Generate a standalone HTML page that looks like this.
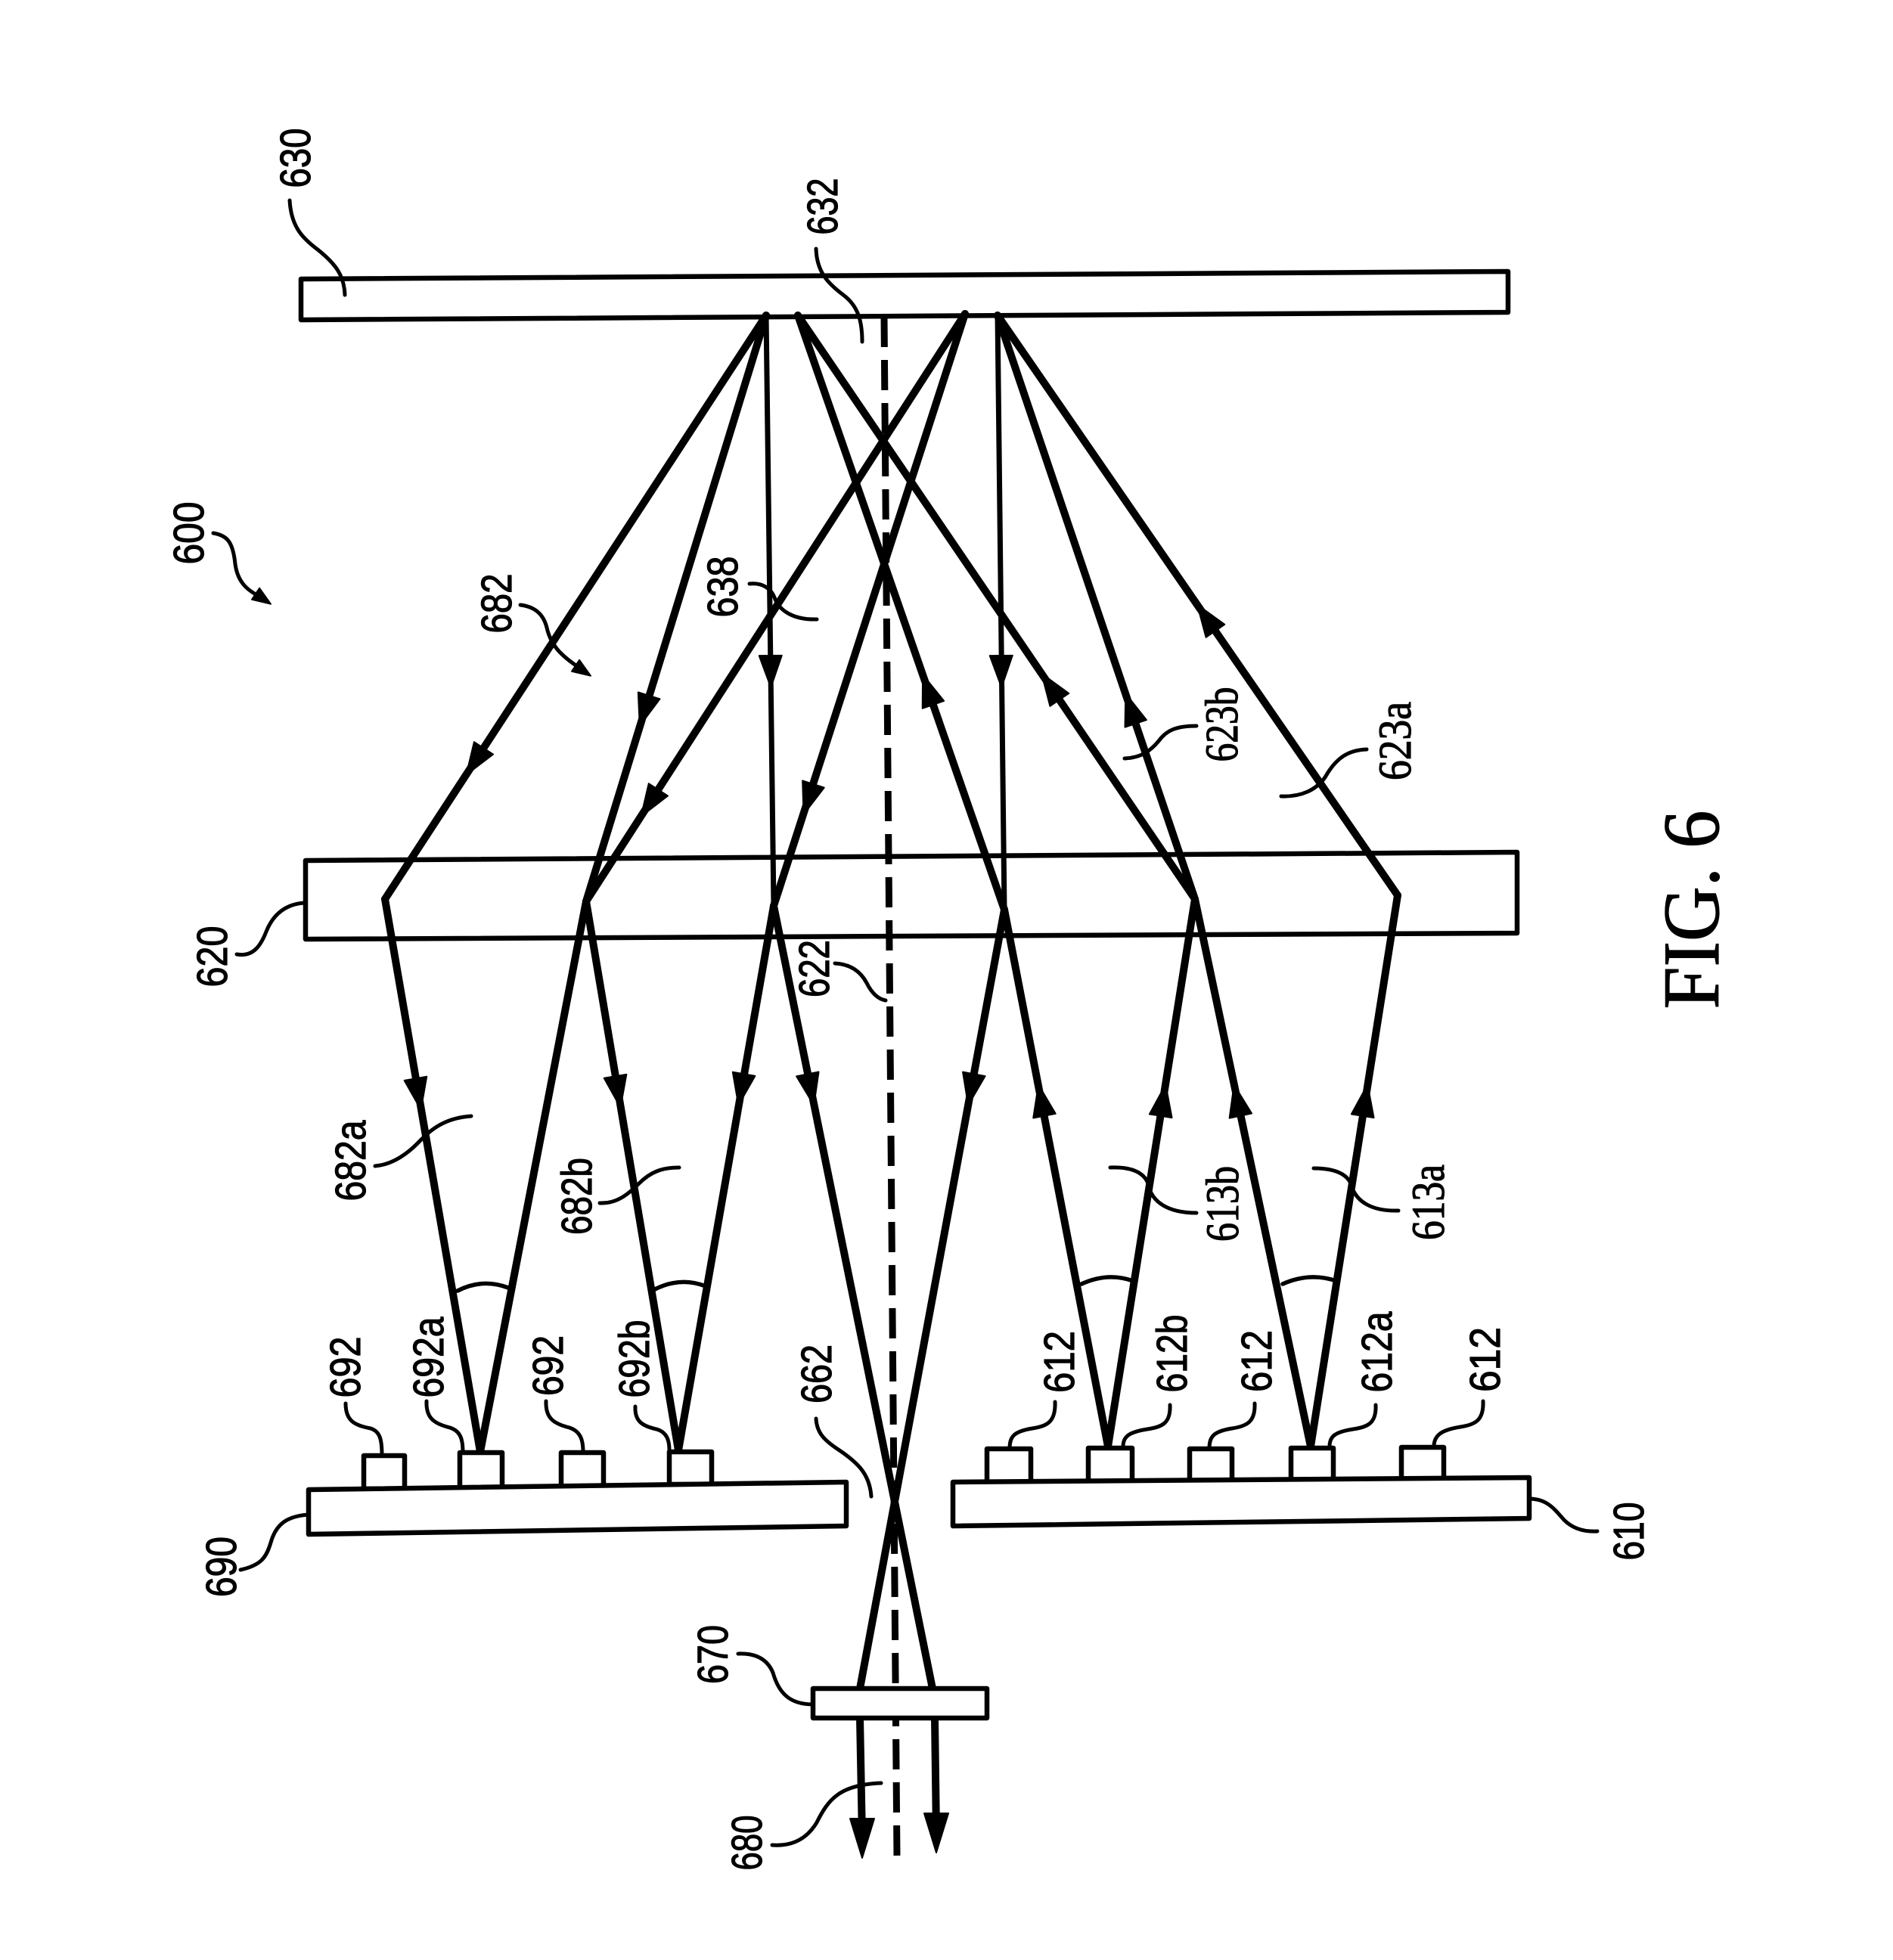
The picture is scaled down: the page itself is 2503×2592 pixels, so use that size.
<!DOCTYPE html>
<html><head><meta charset="utf-8"><style>
html,body{margin:0;padding:0;background:#fff;}
svg{display:block;}
text{fill:#000;stroke:#000;stroke-width:1.2px;}
.s{font-family:"Liberation Sans",sans-serif;font-size:57px;}
.r{font-family:"Liberation Serif",serif;font-size:61px;}
</style></head><body>
<svg width="2503" height="2592" viewBox="0 0 2503 2592" xmlns="http://www.w3.org/2000/svg">
<rect width="2503" height="2592" fill="#fff"/>
<g stroke="#000" fill="none" stroke-linecap="round" stroke-linejoin="round">
<!-- dashed axis -->
<path d="M1169,419 L1186,2457" stroke-width="9" stroke-dasharray="40 17" stroke-linecap="butt"/>
<!-- beams above 620 -->
<g stroke-width="10">
<path d="M1013,417 L509,1189"/>
<path d="M1013,417 L775,1192"/>
<path d="M1055,417 L1328,1203"/>
<path d="M1055,417 L1580,1189"/>
<path d="M1276,415 L775,1192"/>
<path d="M1276,415 L1023,1198"/>
<path d="M1319,417 L1580,1189"/>
<path d="M1319,417 L1848,1184"/>
</g>
<g stroke-width="7">
<path d="M1013,417 L1023,1198"/>
<path d="M1319,417 L1328,1203"/>
</g>
<!-- beams below 620 -->
<g stroke-width="10">
<path d="M509,1189 L635,1920"/>
<path d="M775,1192 L635,1920"/>
<path d="M775,1192 L897,1918"/>
<path d="M1023,1198 L897,1918"/>
<path d="M1023,1198 L1183,1986 L1233,2233"/>
<path d="M1328,1203 L1183,1986 L1137,2233"/>
<path d="M1137,2272 L1140,2430"/>
<path d="M1236,2272 L1238,2424"/>
<path d="M1465,1913 L1328,1203"/>
<path d="M1465,1913 L1580,1189"/>
<path d="M1733,1913 L1580,1189"/>
<path d="M1733,1913 L1848,1184"/>
</g>
<!-- angle arcs -->
<g stroke-width="5.5">
<path d="M605,1707 Q638,1690 672,1703"/>
<path d="M866,1705 Q900,1688 933,1701"/>
<path d="M1430,1698 Q1465,1682 1498,1694"/>
<path d="M1696,1698 Q1732,1682 1767,1694"/>
</g>
<!-- mirrors / panels -->
<g stroke-width="6.5" fill="none">
<polygon points="398,369 1994,359 1994,413 398,423"/>
<polygon points="404,1138 2006,1127 2006,1234 404,1242"/>
</g>
<g stroke-width="6.5" fill="#fff">
<rect x="481" y="1925" width="54" height="44"/>
<rect x="608" y="1921" width="56" height="47"/>
<rect x="742" y="1921" width="56" height="45"/>
<rect x="885" y="1920" width="56" height="43"/>
<rect x="1305" y="1916" width="58" height="44"/>
<rect x="1439" y="1915" width="58" height="44"/>
<rect x="1573" y="1916" width="56" height="42"/>
<rect x="1707" y="1915" width="56" height="42"/>
<rect x="1853" y="1914" width="56" height="42"/>
<polygon points="408,1970 1119,1960 1119,2018 408,2029"/>
<polygon points="1260,1960 2022,1954 2022,2008 1260,2018"/>
<rect x="1075" y="2233" width="230" height="39"/>
</g>
<!-- leaders -->
<g stroke-width="5">
<path d="M383,265 C385,300 400,315 420,330 C445,350 455,365 456,390"/>
<path d="M1079,329 C1080,360 1095,375 1115,390 C1135,405 1140,425 1140,452"/>
<path d="M282,705 C300,708 308,716 311,746 C314,768 325,780 344,789"/>
<path d="M688,800 C705,802 718,810 723,830 C728,852 740,866 766,883"/>
<path d="M991,772 C1010,770 1020,780 1024,790 C1030,808 1050,820 1080,819"/>
<path d="M313,1262 C335,1266 345,1250 352,1232 C360,1212 375,1196 402,1194"/>
<path d="M1104,1274 C1125,1275 1138,1285 1146,1300 C1152,1312 1160,1321 1171,1323"/>
<path d="M496,1542 C520,1540 540,1525 556,1508 C575,1488 595,1478 623,1476"/>
<path d="M793,1591 C815,1592 830,1580 845,1565 C860,1550 875,1544 898,1544"/>
<path d="M1487,1003 C1510,1002 1522,992 1532,980 C1542,966 1555,960 1582,960"/>
<path d="M1694,1053 C1720,1054 1740,1045 1752,1028 C1765,1005 1780,992 1807,991"/>
<path d="M1468,1544 C1495,1543 1512,1550 1518,1565 C1522,1590 1545,1604 1582,1604"/>
<path d="M1737,1545 C1765,1545 1780,1552 1786,1565 C1792,1590 1815,1602 1849,1601"/>
<path d="M457,1856 C457,1880 470,1885 490,1889 C503,1893 505,1905 505,1925"/>
<path d="M564,1853 C563,1876 575,1883 595,1888 C610,1893 612,1905 612,1921"/>
<path d="M722,1853 C721,1876 733,1883 753,1888 C768,1893 771,1905 771,1920"/>
<path d="M840,1860 C839,1880 850,1886 868,1890 C882,1894 885,1905 885,1918"/>
<path d="M1079,1876 C1080,1895 1090,1905 1110,1918 C1135,1935 1150,1950 1152,1979"/>
<path d="M1395,1854 C1396,1880 1385,1886 1365,1889 C1340,1893 1335,1900 1335,1916"/>
<path d="M1547,1858 C1548,1882 1537,1887 1517,1890 C1492,1894 1485,1900 1485,1913"/>
<path d="M1659,1856 C1660,1880 1649,1886 1629,1889 C1604,1893 1599,1900 1599,1916"/>
<path d="M1819,1858 C1820,1882 1809,1887 1789,1890 C1764,1894 1758,1900 1758,1913"/>
<path d="M1961,1853 C1962,1878 1951,1884 1931,1887 C1906,1891 1896,1898 1896,1913"/>
<path d="M2022,1982 C2045,1982 2055,1995 2068,2010 C2080,2022 2095,2026 2112,2025"/>
<path d="M318,2076 C345,2070 352,2060 358,2040 C365,2015 380,2005 408,2003"/>
<path d="M976,2187 C1000,2186 1015,2195 1022,2212 C1030,2240 1045,2254 1075,2254"/>
<path d="M1021,2440 C1050,2442 1068,2430 1080,2410 C1095,2380 1110,2360 1165,2358"/>
</g>
</g>
<!-- arrowheads -->
<g fill="#000" stroke="#000" stroke-width="2" stroke-linejoin="round">
<polygon points="21,0 -21,-15 -21,15" transform="translate(628,1007) rotate(123.1)"/>
<polygon points="21,0 -21,-15 -21,15" transform="translate(852,940) rotate(107.1)"/>
<polygon points="21,0 -21,-15 -21,15" transform="translate(1019,888) rotate(89.3)"/>
<polygon points="21,0 -21,-15 -21,15" transform="translate(859,1062) rotate(122.8)"/>
<polygon points="21,0 -21,-15 -21,15" transform="translate(1069,1057) rotate(107.9)"/>
<polygon points="21,0 -21,-15 -21,15" transform="translate(1324,888) rotate(89.3)"/>
<polygon points="21,0 -21,-15 -21,15" transform="translate(1227,912) rotate(-109.2)"/>
<polygon points="21,0 -21,-15 -21,15" transform="translate(1389,908) rotate(-124.2)"/>
<polygon points="21,0 -21,-15 -21,15" transform="translate(1495,937) rotate(-108.7)"/>
<polygon points="21,0 -21,-15 -21,15" transform="translate(1595,817) rotate(-124.6)"/>
<polygon points="21,0 -21,-15 -21,15" transform="translate(553,1447) rotate(80.2)"/>
<polygon points="21,0 -21,-15 -21,15" transform="translate(817,1444) rotate(80.5)"/>
<polygon points="21,0 -21,-15 -21,15" transform="translate(980,1441) rotate(99.9)"/>
<polygon points="21,0 -21,-15 -21,15" transform="translate(1072,1441) rotate(78.5)"/>
<polygon points="21,0 -21,-15 -21,15" transform="translate(1284,1441) rotate(100.5)"/>
<polygon points="21,0 -21,-15 -21,15" transform="translate(1377,1455) rotate(-100.9)"/>
<polygon points="21,0 -21,-15 -21,15" transform="translate(1538,1455) rotate(-81)"/>
<polygon points="21,0 -21,-15 -21,15" transform="translate(1636,1455) rotate(-101.9)"/>
<polygon points="21,0 -21,-15 -21,15" transform="translate(1805,1455) rotate(-81)"/>
<polygon points="26,0 -26,-16 -26,16" transform="translate(1140,2431) rotate(90)"/>
<polygon points="26,0 -26,-16 -26,16" transform="translate(1238,2424) rotate(90)"/>
<polygon points="12,0 -12,-9 -12,9" transform="translate(348,792) rotate(34)"/>
<polygon points="12,0 -12,-9 -12,9" transform="translate(771,887) rotate(34)"/>
</g>
<!-- labels -->
<g text-anchor="middle">
<text class="s" transform="translate(410,209) rotate(-90)" textLength="79" lengthAdjust="spacingAndGlyphs">630</text>
<text class="s" transform="translate(1107,273) rotate(-90)" textLength="75" lengthAdjust="spacingAndGlyphs">632</text>
<text class="s" transform="translate(269,705) rotate(-90)" textLength="83" lengthAdjust="spacingAndGlyphs">600</text>
<text class="s" transform="translate(676,798) rotate(-90)" textLength="79" lengthAdjust="spacingAndGlyphs">682</text>
<text class="s" transform="translate(975,776) rotate(-90)" textLength="81" lengthAdjust="spacingAndGlyphs">638</text>
<text class="r" transform="translate(1636,958) rotate(-90)" textLength="99" lengthAdjust="spacingAndGlyphs">623b</text>
<text class="r" transform="translate(1865,980) rotate(-90)" textLength="104" lengthAdjust="spacingAndGlyphs">623a</text>
<text class="s" transform="translate(300,1265) rotate(-90)" textLength="81" lengthAdjust="spacingAndGlyphs">620</text>
<text class="s" transform="translate(1096,1281) rotate(-90)" textLength="76" lengthAdjust="spacingAndGlyphs">622</text>
<text class="s" transform="translate(483,1535) rotate(-90)" textLength="107" lengthAdjust="spacingAndGlyphs">682a</text>
<text class="s" transform="translate(782,1582) rotate(-90)" textLength="102" lengthAdjust="spacingAndGlyphs">682b</text>
<text class="r" transform="translate(1637,1592) rotate(-90)" textLength="100" lengthAdjust="spacingAndGlyphs">613b</text>
<text class="r" transform="translate(1909,1590) rotate(-90)" textLength="100" lengthAdjust="spacingAndGlyphs">613a</text>
<text class="s" transform="translate(476,1808) rotate(-90)" textLength="81" lengthAdjust="spacingAndGlyphs">692</text>
<text class="s" transform="translate(586,1795) rotate(-90)" textLength="107" lengthAdjust="spacingAndGlyphs">692a</text>
<text class="s" transform="translate(744,1806) rotate(-90)" textLength="80" lengthAdjust="spacingAndGlyphs">692</text>
<text class="s" transform="translate(858,1797) rotate(-90)" textLength="103" lengthAdjust="spacingAndGlyphs">692b</text>
<text class="s" transform="translate(1099,1817) rotate(-90)" textLength="78" lengthAdjust="spacingAndGlyphs">662</text>
<text class="s" transform="translate(1420,1801) rotate(-90)" textLength="82" lengthAdjust="spacingAndGlyphs">612</text>
<text class="s" transform="translate(1569,1790) rotate(-90)" textLength="103" lengthAdjust="spacingAndGlyphs">612b</text>
<text class="s" transform="translate(1681,1800) rotate(-90)" textLength="82" lengthAdjust="spacingAndGlyphs">612</text>
<text class="s" transform="translate(1840,1788) rotate(-90)" textLength="107" lengthAdjust="spacingAndGlyphs">612a</text>
<text class="s" transform="translate(1983,1798) rotate(-90)" textLength="86" lengthAdjust="spacingAndGlyphs">612</text>
<text class="s" transform="translate(312,2072) rotate(-90)" textLength="80" lengthAdjust="spacingAndGlyphs">690</text>
<text class="s" transform="translate(2173,2025) rotate(-90)" textLength="77" lengthAdjust="spacingAndGlyphs">610</text>
<text class="s" transform="translate(962,2188) rotate(-90)" textLength="78" lengthAdjust="spacingAndGlyphs">670</text>
<text class="s" transform="translate(1007,2437) rotate(-90)" textLength="73" lengthAdjust="spacingAndGlyphs">680</text>
<text transform="translate(2272,1203) rotate(-90)" textLength="263" lengthAdjust="spacingAndGlyphs" style="font-family:'Liberation Serif',serif;font-size:106px;">FIG. 6</text>
</g>
</svg>
</body></html>
